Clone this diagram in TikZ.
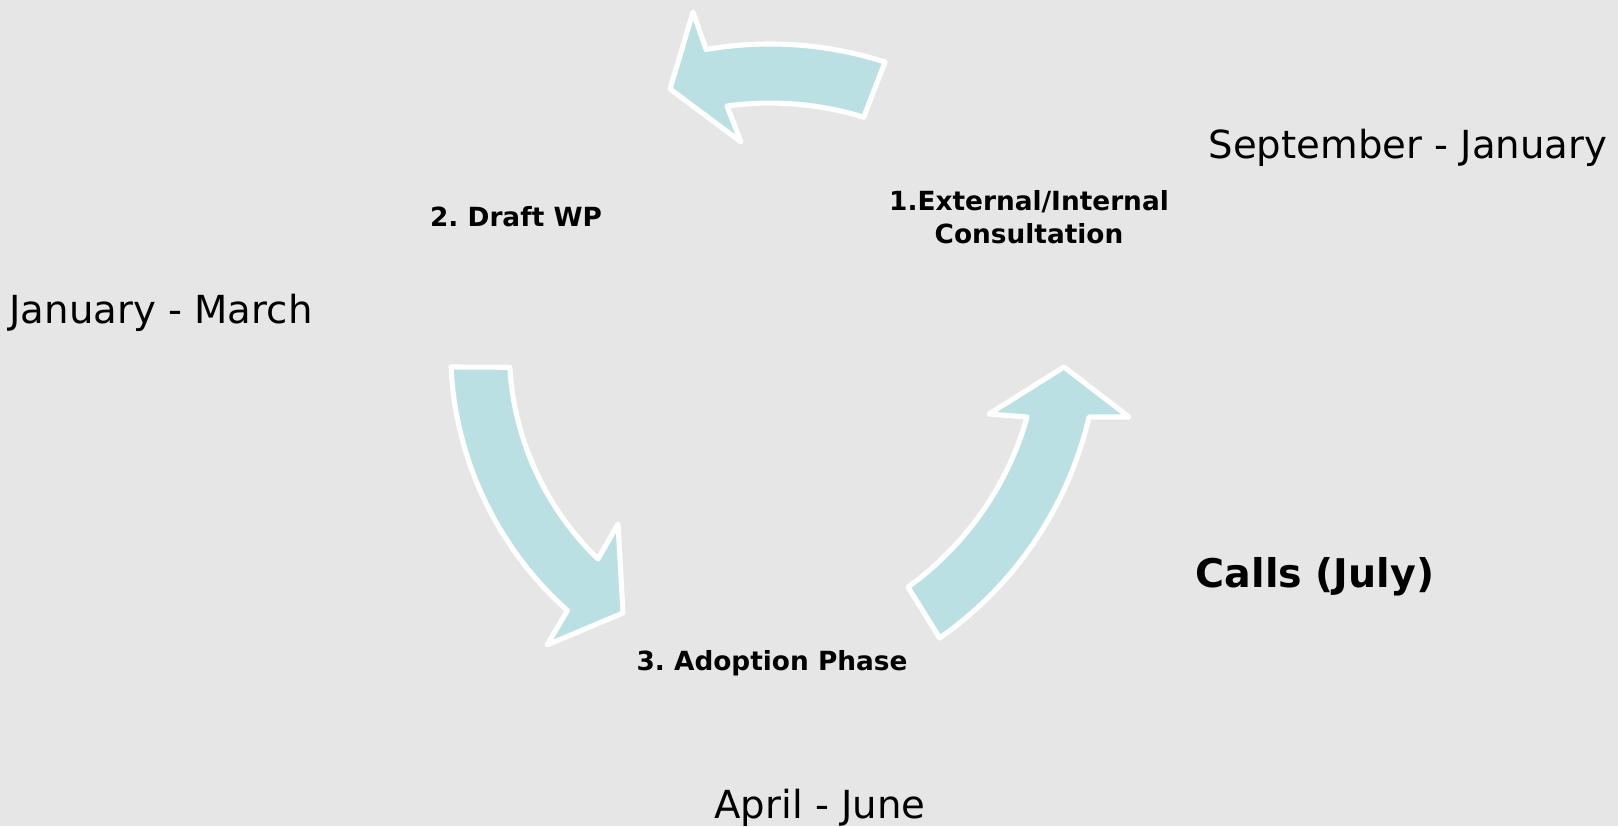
\documentclass[tikz,border=0pt]{standalone}
\usepackage{fontspec}
\setmainfont{DejaVu Sans}
\frenchspacing
\definecolor{bggray}{HTML}{E6E6E6}
\definecolor{arrowfill}{HTML}{BBE0E3}

\begin{document}
\begin{tikzpicture}[x=0.02cm,y=0.02cm,
  cyclearrow/.style={fill=arrowfill,draw=white,line width=2.9pt,line join=round},
  phase/.style={font=\bfseries\fontsize{15}{18.5}\selectfont,align=center},
  period/.style={font=\fontsize{22}{26}\selectfont}]
  \fill[bggray] (0,0) rectangle (1618,826);
  \useasboundingbox (0,0) rectangle (1618,826);

  % arrows of the cycle
  \draw[cyclearrow] (885,764) arc[start angle=72.2,end angle=99.8,radius=376]
    -- (693,814) -- (670,737) -- (741,684) -- (727,720)
    arc[start angle=97.8,end angle=72.8,radius=317] -- cycle;
  \draw[cyclearrow] (451,459) arc[start angle=182.8,end angle=228.3,radius=349]
    -- (547,181) -- (623,213) -- (618,302) -- (598,267)
    arc[start angle=226,end angle=183.4,radius=290.5] -- cycle;
  \draw[cyclearrow] (908,239) arc[start angle=-54.3,end angle=-15.7,radius=314]
    -- (989,412) -- (1064,459) -- (1129,409) -- (1089,409)
    arc[start angle=-13.1,end angle=-55,radius=373] -- cycle;

  % phases
  \node[phase] (consult) at (1029,609) {1.External/Internal\\Consultation};
  \node[phase] (draft) at (516,609) {2. Draft WP};
  \node[phase] (adopt) at (772,163) {3. Adoption Phase};

  % periods
  \node[period] (sepjan) at (1408,678) {September - January};
  \node[period] (janmar) at (161,513) {January - March};
  \node[period] (aprjun) at (820,18) {April - June};
  \node[period,font=\bfseries\fontsize{22.5}{26}\selectfont] (calls) at (1315,249) {Calls (July)};
\end{tikzpicture}
\end{document}
